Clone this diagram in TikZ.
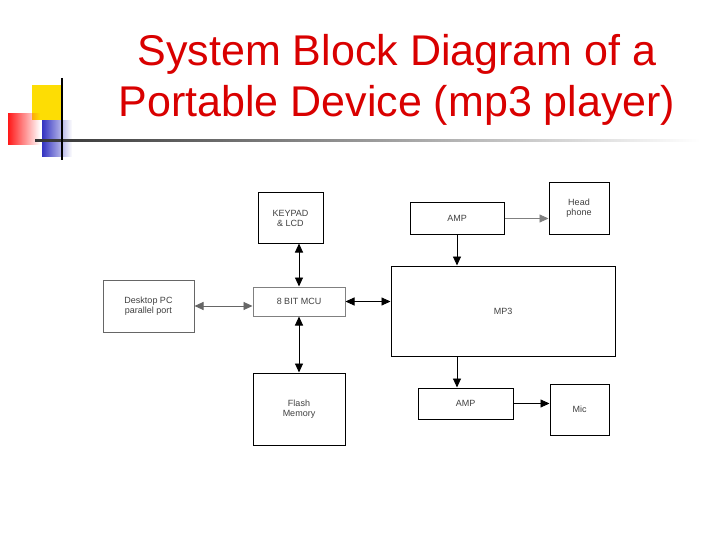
\documentclass[tikz,border=0pt]{standalone}
\usepackage{fontspec}
\setmainfont{Liberation Sans}
\usetikzlibrary{arrows.meta,fadings}
\begin{document}
\begin{tikzpicture}[x=1pt,y=-1pt,
  box/.style={draw=black,line width=1pt,inner sep=0pt,align=center,font=\fontsize{9}{10}\selectfont,text=black!75},
  con/.style={line width=0.9pt,-{Triangle[length=9pt,width=8pt]}},
  bicon/.style={line width=0.9pt,{Triangle[length=9pt,width=8pt]}-{Triangle[length=9pt,width=8pt]}}]
\useasboundingbox (0,0) rectangle (720,540);
\fill[white] (0,0) rectangle (720,540);
% decoration
\fill[yellow!80!orange] (32,85) rectangle (62,120);
\fill[blue!70!black!80, path fading=east] (42,120) rectangle (72,157);
\fill[red!90, path fading=east] (8,113) rectangle (40,145);
\shade[left color=black!80,right color=white] (35,140) rectangle (700,142);
\draw[line width=1.2pt] (62,78) -- (62,160);
% title
\node[text=red!85!black,font=\fontsize{43}{51}\selectfont,align=center] (title) at (397,80) {System Block Diagram of a\\Portable Device (mp3 player)};
% boxes
\node[box,minimum width=65,minimum height=50] (key) at (290.5,218) {KEYPAD\\\& LCD};
\node[box,minimum width=94,minimum height=31] (amp1) at (457,218.5) {AMP};
\node[box,minimum width=60,minimum height=51] (head) at (579,208.5) {Head\\phone};
\node[box,draw=black!60,minimum width=91,minimum height=52] (pc) at (148.5,306) {Desktop PC\\parallel port};
\node[box,draw=black!50,minimum width=92,minimum height=29] (mcu) at (299,301.5) {8 BIT MCU};
\node[box,minimum width=224,minimum height=90] (mp3) at (503,311) {MP3};
\node[box,minimum width=92,minimum height=72] (flash) at (299,409) {Flash\\Memory};
\node[box,minimum width=95,minimum height=31] (amp2) at (465.5,403.5) {AMP};
\node[box,minimum width=59,minimum height=51] (mic) at (579.5,409.5) {Mic};
% connectors
\draw[bicon] (mcu.north |- key.south) -- (mcu.north);
\draw[bicon] (mcu.south) -- (flash.north);
\draw[bicon,draw=black!60] (pc.east) -- (pc.east -| mcu.west);
\draw[bicon] (mcu.east) -- (mcu.east -| mp3.west);
\draw[con] (amp1.south) -- (amp1.south |- mp3.north);
\draw[con,draw=black!50] (amp1.east) -- (amp1.east -| head.west);
\coordinate (d) at (amp1.south |- mp3.south);
\draw[con] (d) -- (d |- amp2.north);
\draw[con] (amp2.east) -- (amp2.east -| mic.west);
\end{tikzpicture}
\end{document}
